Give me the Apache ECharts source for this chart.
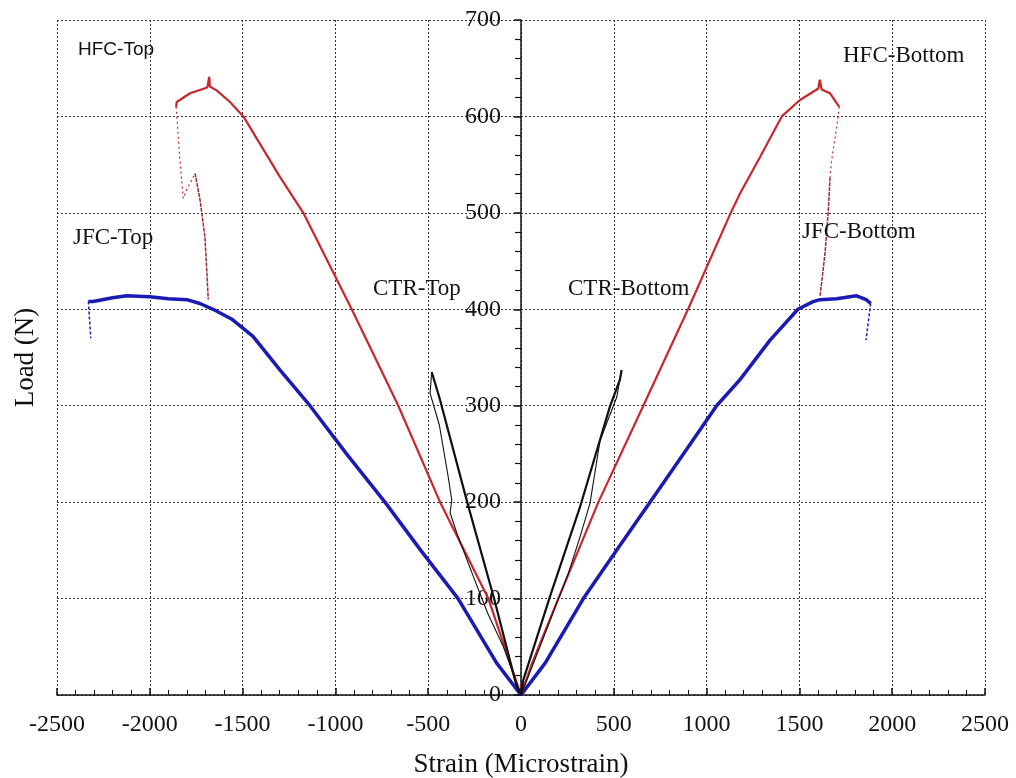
<!DOCTYPE html>
<html>
<head>
<meta charset="utf-8">
<script src="https://cdn.jsdelivr.net/npm/echarts@6/dist/echarts.min.js"></script>
<style>
html,body{margin:0;padding:0;background:#fff;}
#chart{width:1016px;height:778px;}
</style>
</head>
<body>
<div id="chart"></div>
<script>
// ---- Data (strain in microstrain, load in N) ----
var xTicks = [-2500, -2000, -1500, -1000, -500, 0, 500, 1000, 1500, 2000, 2500];
var yTicks = [0, 100, 200, 300, 400, 500, 600, 700];

var jfcTop = [[0,0],[-131,33],[-339,100],[-540,150],[-733,200],[-940,250],[-1137,300],[-1298,337],[-1444,372],[-1560,390],[-1659,400],[-1730,406],[-1800,410],[-1900,411],[-2000,413],[-2125,414],[-2200,412],[-2305,408],[-2331,408]];
var jfcTopTail = [[-2331,408],[-2325,390],[-2318,370]];

var jfcBottom = [[0,0],[130,33],[336,100],[515,150],[695,200],[875,250],[1054,300],[1180,327],[1342,368],[1492,400],[1574,408],[1611,410],[1700,411],[1808,414],[1860,410],[1884,406]];
var jfcBottomTail = [[1884,406],[1872,388],[1859,368]];

var hfcTop = [[0,0],[-59,33],[-176,100],[-436,200],[-661,300],[-912,400],[-1173,500],[-1298,537],[-1496,600],[-1568,615],[-1640,627],[-1676,631],[-1680,641],[-1690,630],[-1783,624],[-1855,615],[-1858,610]];
var hfcTopDrop = [[-1858,610],[-1840,560],[-1820,515],[-1800,525],[-1780,532],[-1756,541]];
var hfcTopPost = [[-1756,541],[-1729,513],[-1703,475],[-1694,444],[-1685,410]];

var hfcBottom = [[0,0],[60,33],[201,100],[417,200],[659,300],[900,400],[1130,500],[1180,520],[1288,558],[1405,600],[1503,617],[1602,629],[1610,638],[1620,628],[1665,624],[1715,610]];
var hfcBottomDrop = [[1715,610],[1701,589],[1674,555],[1665,537]];
var hfcBottomPost = [[1665,537],[1656,503],[1638,458],[1611,413]];

var ctrTopLoad = [[0,0],[-25,10],[-145,100],[-290,200],[-436,306],[-481,335]];
var ctrTopUnload = [[-481,335],[-490,313],[-440,280],[-392,226],[-373,202],[-382,189],[-346,168],[-257,123],[-180,85],[-95,50],[0,0]];
var ctrBottomLoad = [[0,0],[13,16],[156,102],[318,195],[479,299],[533,327],[542,337]];
var ctrBottomUnload = [[542,337],[516,309],[426,264],[372,199],[318,164],[255,126],[102,50],[0,0]];

var labels = [
  {text:'HFC-Top', x:78, y:50, sans:true},
  {text:'JFC-Top', x:73, y:238},
  {text:'CTR-Top', x:373, y:289},
  {text:'CTR-Bottom', x:568, y:289},
  {text:'HFC-Bottom', x:843, y:56},
  {text:'JFC-Bottom', x:802, y:232}
];

// ---- Chart ----
var BLUE = '#1a1ab4', RED = '#c8282c', BLACK = '#111111';
var serif = '"Liberation Serif", "DejaVu Serif", serif';

function line(data, color, width, type, z) {
  return {
    type: 'line', data: data, showSymbol: false, symbol: 'none', smooth: false,
    animation: false, z: z || 2,
    lineStyle: {color: color, width: width, type: type || 'solid'}
  };
}

var chart = echarts.init(document.getElementById('chart'), null, {renderer: 'canvas'});
var gridLine = {show: true, showMinLine: true, showMaxLine: true, lineStyle: {color: '#333', width: 1, type: [2, 2]}};
var plain = function (v) { return String(v); };

chart.setOption({
  backgroundColor: '#fff',
  animation: false,
  grid: {left: 57, right: 31, top: 20, bottom: 83, containLabel: false, outerBoundsMode: 'none'},
  xAxis: {
    type: 'value', min: xTicks[0], max: xTicks[xTicks.length - 1], interval: 500,
    name: 'Strain (Microstrain)', nameLocation: 'middle', nameGap: 56,
    nameTextStyle: {fontFamily: serif, fontSize: 27, color: '#111'},
    axisLine: {show: true, onZero: false, lineStyle: {color: '#111', width: 1.5}},
    axisTick: {show: true, inside: true, length: 7, lineStyle: {color: '#111', width: 1.5}},
    minorTick: {show: true, splitNumber: 5, length: 5, lineStyle: {color: '#111', width: 1}},
    axisLabel: {fontFamily: serif, fontSize: 24, color: '#111', margin: 18, formatter: plain, showMinLabel: true, showMaxLabel: true, hideOverlap: false},
    splitLine: gridLine
  },
  yAxis: {
    type: 'value', min: yTicks[0], max: yTicks[yTicks.length - 1], interval: 100,
    offset: -464,
    name: 'Load (N)', nameLocation: 'middle', nameGap: 482, nameRotate: 90,
    nameTextStyle: {fontFamily: serif, fontSize: 27, color: '#111'},
    axisLine: {show: true, onZero: false, lineStyle: {color: '#111', width: 1.5}},
    axisTick: {show: true, inside: false, length: 7, lineStyle: {color: '#111', width: 1.5}},
    minorTick: {show: true, splitNumber: 5, length: 6, lineStyle: {color: '#111', width: 1.2}},
    axisLabel: {fontFamily: serif, fontSize: 24, color: '#111', margin: 20, formatter: plain},
    splitLine: gridLine
  },
  series: [
    line(jfcTop, BLUE, 3.5),
    line(jfcTopTail, BLUE, 1.5, [3, 2]),
    line(jfcBottom, BLUE, 3.5),
    line(jfcBottomTail, BLUE, 1.5, [3, 2]),
    line(hfcTop, RED, 2.2, 'solid', 3),
    line(hfcTopDrop, RED, 1.2, [2, 3], 3),
    line(hfcTopPost, '#a02828', 1.5, [4, 1], 3),
    line(hfcBottom, RED, 2.2, 'solid', 3),
    line(hfcBottomDrop, RED, 1.2, [2, 3], 3),
    line(hfcBottomPost, '#a02828', 1.5, [4, 1], 3),
    line(ctrTopLoad, BLACK, 2.2, 'solid', 4),
    line(ctrTopUnload, BLACK, 1.1, 'solid', 4),
    line(ctrBottomLoad, BLACK, 2.2, 'solid', 4),
    line(ctrBottomUnload, BLACK, 1.1, 'solid', 4)
  ],
  graphic: labels.map(function (l) {
    return {
      type: 'text', x: l.x, y: l.y, z: 10,
      style: {
        text: l.text, fill: '#111',
        font: l.sans ? '19px "Liberation Sans", Arial, sans-serif' : '23px ' + serif,
        textAlign: 'left', textVerticalAlign: 'middle'
      }
    };
  })
});
</script>
</body>
</html>
